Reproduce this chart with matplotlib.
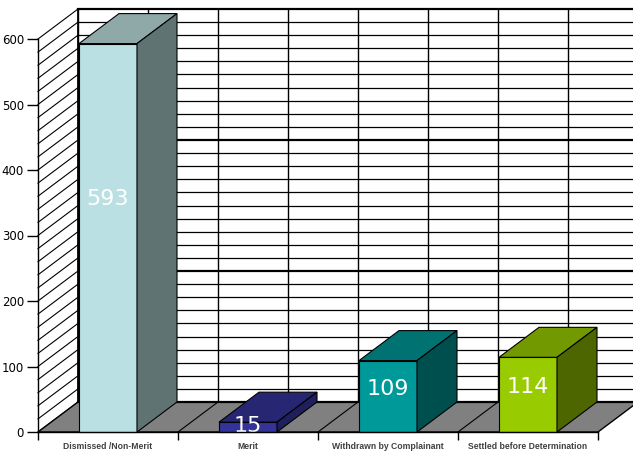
import numpy as np
import matplotlib.pyplot as plt
from matplotlib.patches import Polygon

# data
categories = ['Dismissed /Non-Merit', 'Merit', 'Withdrawn by Complainant', 'Settled before Determination']
values = [593, 15, 109, 114]
front_colors = ['#BBE0E3', '#333399', '#009999', '#99CC00']
top_colors = ['#8FA9A9', '#262673', '#007272', '#739900']
side_colors = ['#5F7373', '#1F1F5C', '#004F4F', '#4D6600']
yticks = [0, 100, 200, 300, 400, 500, 600]

DX = 40 / 140.0      # depth offset in category units
DY = 30 / (393 / 600.0)  # depth offset in value units
bar_w = 58 / 140.0

fig = plt.figure(figsize=(6.33, 4.54), dpi=100)
ax = fig.add_axes([38 / 633, 22 / 454, 560 / 633, 393 / 454])
ax.set_xlim(0, 4)
ax.set_ylim(0, 600)
ax.patch.set_visible(False)

def poly(pts, fc, z, lw=0.8, ec='black'):
    p = Polygon(pts, closed=True, facecolor=fc, edgecolor=ec, lw=lw, zorder=z, clip_on=False)
    ax.add_patch(p)
    return p

# back wall
poly([(DX, DY), (4 + DX, DY), (4 + DX, 600 + DY), (DX, 600 + DY)], 'white', 1, lw=0)
for v in range(0, 620, 20):
    lw = 1.6 if v in (200, 400, 600) else 0.9
    ax.plot([DX, 4 + DX], [v + DY, v + DY], color='black', lw=lw, zorder=2, clip_on=False)
for k in range(9):
    ax.plot([DX + 0.5 * k, DX + 0.5 * k], [DY, 600 + DY], color='black', lw=1.0, zorder=2, clip_on=False)

# left side wall
poly([(0, 0), (DX, DY), (DX, 600 + DY), (0, 600)], 'white', 3, lw=0)
for v in range(0, 620, 20):
    ax.plot([0, DX], [v, v + DY], color='black', lw=0.8, zorder=3, clip_on=False)
ax.plot([DX, DX], [DY, 600 + DY], color='black', lw=1.3, zorder=3, clip_on=False)

# floor
poly([(0, 0), (4, 0), (4 + DX, DY), (DX, DY)], '#808080', 4, lw=1.0)
ax.plot([DX, 4 + DX], [DY, DY], color='black', lw=1.6, zorder=4, clip_on=False)
for k in range(1, 4):
    ax.plot([k, k + DX], [0, DY], color='black', lw=0.8, zorder=4, clip_on=False)

# bars
for i, v in enumerate(values):
    l = i + 0.5 - bar_w / 2
    r = i + 0.5 + bar_w / 2
    z = 5 + i
    poly([(l, 0), (r, 0), (r, v), (l, v)], front_colors[i], z)
    poly([(l, v), (r, v), (r + DX, v + DY), (l + DX, v + DY)], top_colors[i], z)
    poly([(r, 0), (r + DX, DY), (r + DX, v + DY), (r, v)], side_colors[i], z)
    ax.text(i + 0.5, v * 0.6, str(v), ha='center', va='center', color='white',
            fontsize=16, family='DejaVu Sans', zorder=z + 0.5, clip_on=True)

# axes
for s in ['top', 'right']:
    ax.spines[s].set_visible(False)
ax.spines['left'].set_linewidth(1.0)
ax.spines['bottom'].set_linewidth(1.0)
ax.spines['left'].set_zorder(20)
ax.spines['bottom'].set_zorder(20)
ax.set_yticks(yticks)
ax.tick_params(axis='y', length=8, width=1, labelsize=8.5, pad=2, colors='black')
ax.set_xticks([0, 1, 2, 3, 4])
ax.set_xticklabels([])
ax.tick_params(axis='x', which='major', length=6, width=1)
ax.set_xticks([0.5, 1.5, 2.5, 3.5], minor=True)
ax.set_xticklabels(categories, minor=True, fontsize=6.2, fontweight='bold', color='#404040',
                   family=['Liberation Sans Narrow', 'Liberation Sans', 'DejaVu Sans'])
ax.tick_params(axis='x', which='minor', length=0, pad=7)

fig.savefig('out.png', dpi=100)
